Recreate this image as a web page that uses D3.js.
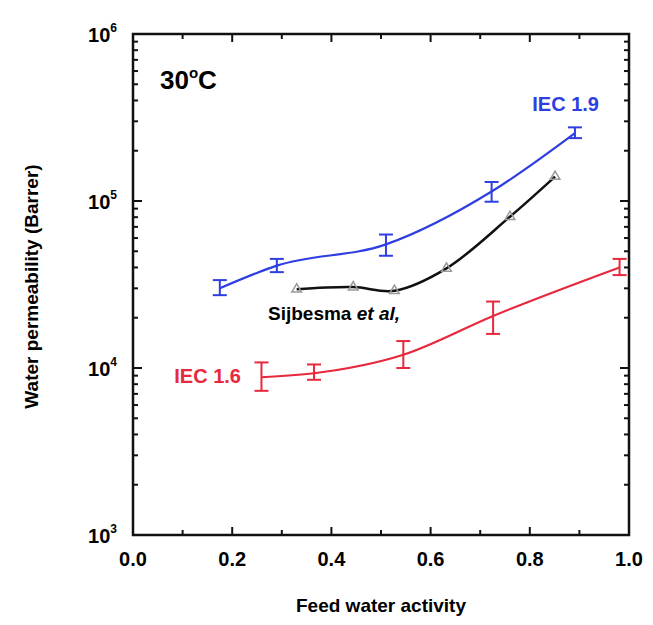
<!DOCTYPE html>
<html>
<head>
<meta charset="utf-8">
<title>Water permeability</title>
<script src="https://d3js.org/d3.v7.min.js"></script>
<style>
  body { margin: 0; background: #fff; }
  text { font-family: "Liberation Sans", Arial, sans-serif; font-weight: bold; }
</style>
</head>
<body>
<div id="chart"></div>
<script>
// IEC 1.9 membrane (blue)
const blueX = [0.175, 0.29, 0.51, 0.723, 0.891];
const blueY = [30000, 41000, 55000, 114000, 255000];
const blueLo = [27300, 37500, 47000, 99000, 238000];
const blueHi = [33600, 45000, 63000, 130000, 276000];

// IEC 1.6 membrane (red)
const redX = [0.259, 0.365, 0.545, 0.726, 0.981];
const redY = [8800, 9300, 12000, 20500, 40000];
const redLo = [7300, 8500, 10000, 16000, 36000];
const redHi = [10800, 10500, 14500, 25000, 45000];

// Sijbesma et al. reference data (black line, grey triangles)
const refX = [0.33, 0.444, 0.527, 0.632, 0.76, 0.851];
const refY = [29600, 30500, 29000, 39500, 80500, 140000];

const xTicks = [0, 0.2, 0.4, 0.6, 0.8, 1.0];
const yTicks = [1e3, 1e4, 1e5, 1e6];

const W = 653, H = 625;
const margin = { top: 34, right: 24, bottom: 90, left: 133 };

const svg = d3.select('#chart').append('svg')
  .attr('width', W).attr('height', H);

const x = d3.scaleLinear().domain([0, 1]).range([margin.left, 629]);
const y = d3.scaleLog().domain([1e3, 1e6]).range([535, margin.top]);

const zip = (xs, ys) => xs.map((v, i) => [v, ys[i]]);
const smooth = d3.line().x(d => x(d[0])).y(d => y(d[1])).curve(d3.curveCatmullRom.alpha(0.5));
const straight = d3.line().x(d => x(d[0])).y(d => y(d[1])).curve(d3.curveMonotoneX);

// ticks (inward, all four sides)
const g = svg.append('g').attr('stroke', '#111').attr('stroke-width', 2);
const minorX = d3.range(1, 10).map(i => i / 10).filter(v => Math.round(v * 10) % 2 === 1);
xTicks.forEach(v => {
  g.append('line').attr('x1', x(v)).attr('x2', x(v)).attr('y1', y(1e3)).attr('y2', y(1e3) - 8);
  g.append('line').attr('x1', x(v)).attr('x2', x(v)).attr('y1', y(1e6)).attr('y2', y(1e6) + 8);
});
minorX.forEach(v => {
  g.append('line').attr('x1', x(v)).attr('x2', x(v)).attr('y1', y(1e3)).attr('y2', y(1e3) - 5);
  g.append('line').attr('x1', x(v)).attr('x2', x(v)).attr('y1', y(1e6)).attr('y2', y(1e6) + 5);
});
const minorY = [];
[1e3, 1e4, 1e5].forEach(d => { for (let k = 2; k <= 9; k++) minorY.push(d * k); });
yTicks.forEach(v => {
  g.append('line').attr('x1', x(0)).attr('x2', x(0) + 9).attr('y1', y(v)).attr('y2', y(v));
  g.append('line').attr('x1', x(1)).attr('x2', x(1) - 9).attr('y1', y(v)).attr('y2', y(v));
});
minorY.forEach(v => {
  g.append('line').attr('x1', x(0)).attr('x2', x(0) + 5).attr('y1', y(v)).attr('y2', y(v));
  g.append('line').attr('x1', x(1)).attr('x2', x(1) - 5).attr('y1', y(v)).attr('y2', y(v));
});

// frame
svg.append('rect')
  .attr('x', x(0)).attr('y', y(1e6))
  .attr('width', x(1) - x(0)).attr('height', y(1e3) - y(1e6))
  .attr('fill', 'none').attr('stroke', '#111').attr('stroke-width', 2.5);

// tick labels
svg.selectAll('.xl').data(xTicks).enter().append('text')
  .attr('x', d => x(d)).attr('y', 566)
  .attr('text-anchor', 'middle').attr('font-size', 20)
  .text(d => d.toFixed(1));

const yl = svg.selectAll('.yl').data(yTicks).enter().append('text')
  .attr('x', 117).attr('y', d => y(d) + 8)
  .attr('text-anchor', 'end').attr('font-size', 20);
yl.append('tspan').text('10');
yl.append('tspan').attr('font-size', 12).attr('dy', -10).text(d => Math.round(Math.log10(d)));

// axis titles
svg.append('text').attr('x', x(0.5)).attr('y', 612)
  .attr('text-anchor', 'middle').attr('font-size', 19).text('Feed water activity');
svg.append('text')
  .attr('transform', `translate(38,${(y(1e3) + y(1e6)) / 2 + 2}) rotate(-90)`)
  .attr('text-anchor', 'middle').attr('font-size', 19).text('Water permeability (Barrer)');

// series
function series(xs, ys, lo, hi, color) {
  svg.append('path').datum(zip(xs, ys)).attr('d', straight)
    .attr('fill', 'none').attr('stroke', color).attr('stroke-width', 2.2);
  const eb = svg.append('g').attr('stroke', color).attr('stroke-width', 2);
  xs.forEach((v, i) => {
    const cx = x(v);
    eb.append('line').attr('x1', cx).attr('x2', cx).attr('y1', y(lo[i])).attr('y2', y(hi[i]));
    eb.append('line').attr('x1', cx - 7).attr('x2', cx + 7).attr('y1', y(lo[i])).attr('y2', y(lo[i]));
    eb.append('line').attr('x1', cx - 7).attr('x2', cx + 7).attr('y1', y(hi[i])).attr('y2', y(hi[i]));
  });
}

svg.append('path').datum(zip(refX, refY)).attr('d', smooth)
  .attr('fill', 'none').attr('stroke', '#111').attr('stroke-width', 2.5);
svg.selectAll('.tri').data(zip(refX, refY)).enter().append('path')
  .attr('d', d3.symbol().type(d3.symbolTriangle).size(40))
  .attr('transform', d => `translate(${x(d[0])},${y(d[1])})`)
  .attr('fill', 'none').attr('stroke', '#999').attr('stroke-width', 1.5);

series(blueX, blueY, blueLo, blueHi, '#2e3ee0');
series(redX, redY, redLo, redHi, '#e8283c');

// annotations
const t30 = svg.append('text').attr('x', 160).attr('y', 89).attr('font-size', 26);
t30.append('tspan').text('30');
t30.append('tspan').attr('font-size', 15).attr('dy', -11).text('o');
t30.append('tspan').attr('dy', 11).text('C');

svg.append('text').attr('x', 599).attr('y', 111).attr('text-anchor', 'end')
  .attr('font-size', 20).attr('fill', '#2e3ee0').text('IEC 1.9');
svg.append('text').attr('x', 241).attr('y', 383).attr('text-anchor', 'end')
  .attr('font-size', 20).attr('fill', '#e8283c').text('IEC 1.6');
const sj = svg.append('text').attr('x', 268).attr('y', 320).attr('font-size', 19);
sj.append('tspan').text('Sijbesma ');
sj.append('tspan').attr('font-style', 'italic').text('et al,');
</script>
</body>
</html>
